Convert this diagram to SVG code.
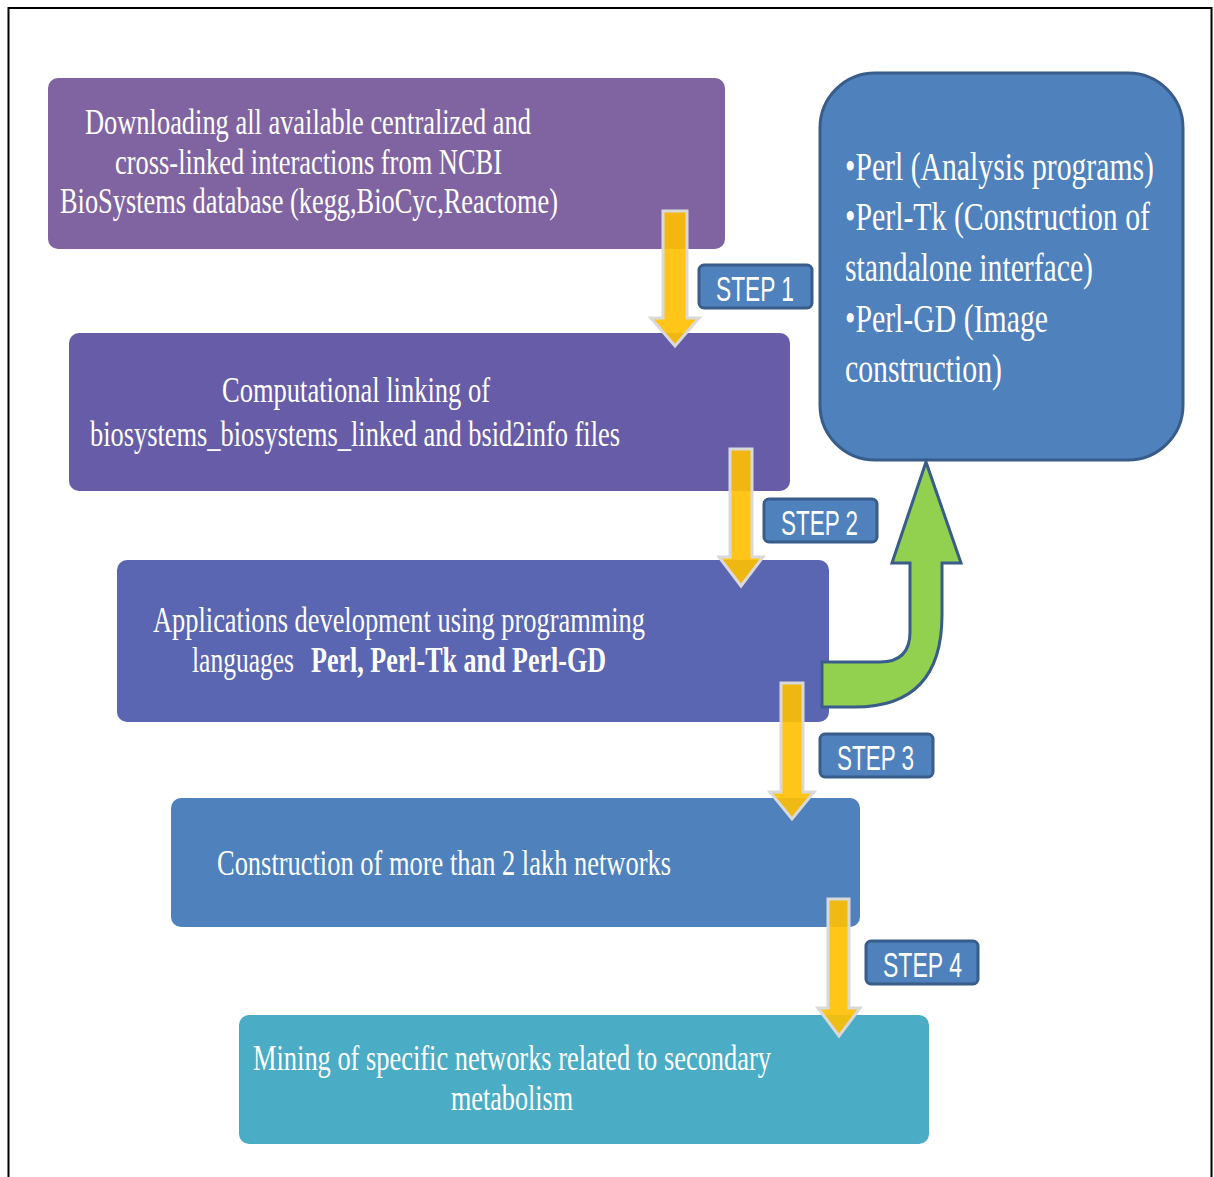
<svg xmlns="http://www.w3.org/2000/svg" width="1214" height="1177" viewBox="0 0 1214 1177">
<style>
.box{stroke:none}
.t{font-family:"Liberation Serif","Times New Roman",serif;font-size:36px;fill:#ffffff}
.tr{font-family:"Liberation Serif","Times New Roman",serif;font-size:40px;fill:#ffffff}
.b{font-weight:bold}
.step rect{fill:#4F81BD;stroke:#385D8A;stroke-width:3}
.step text{font-family:"Liberation Sans",Arial,sans-serif;font-size:35px;fill:#ffffff}
.ya{fill:#FFC000;fill-opacity:0.9;stroke:#D9D9D9;stroke-width:3;stroke-linejoin:miter}
</style>
<rect x="0" y="0" width="1214" height="1177" fill="#ffffff"/>
<rect x="8.5" y="8" width="1203" height="1185" fill="none" stroke="#000000" stroke-width="2"/>

<g id="node1">
<rect class="box" x="48" y="78" width="677" height="171" rx="10" fill="#8064A2"/>
<text class="t" x="85" y="134" textLength="446" lengthAdjust="spacingAndGlyphs">Downloading all available centralized and</text>
<text class="t" x="115" y="174" textLength="387" lengthAdjust="spacingAndGlyphs">cross-linked interactions from NCBI</text>
<text class="t" x="60" y="213" textLength="498" lengthAdjust="spacingAndGlyphs">BioSystems database (kegg,BioCyc,Reactome)</text>
</g>

<g id="node2">
<rect class="box" x="69" y="333" width="721" height="158" rx="10" fill="#675CA8"/>
<text class="t" x="222" y="402" textLength="268" lengthAdjust="spacingAndGlyphs">Computational linking of</text>
<text class="t" x="90" y="446" textLength="530" lengthAdjust="spacingAndGlyphs">biosystems_biosystems_linked and bsid2info files</text>
</g>

<g id="node3">
<rect class="box" x="117" y="560" width="712" height="162" rx="10" fill="#5A66B2"/>
<text class="t" x="153" y="632" textLength="492" lengthAdjust="spacingAndGlyphs">Applications development using programming</text>
<text class="t" y="672"><tspan x="192" textLength="102" lengthAdjust="spacingAndGlyphs">languages</tspan><tspan class="b" x="311" textLength="295" lengthAdjust="spacingAndGlyphs">Perl, Perl-Tk and Perl-GD</tspan></text>
</g>

<g id="node4">
<rect class="box" x="171" y="798" width="689" height="129" rx="10" fill="#4F81BD"/>
<text class="t" x="217" y="875" textLength="454" lengthAdjust="spacingAndGlyphs">Construction of more than 2 lakh networks</text>
</g>

<g id="node5">
<rect class="box" x="239" y="1015" width="690" height="129" rx="10" fill="#4BACC6"/>
<text class="t" x="253" y="1070" textLength="518" lengthAdjust="spacingAndGlyphs">Mining of specific networks related to secondary</text>
<text class="t" x="451" y="1110" textLength="122" lengthAdjust="spacingAndGlyphs">metabolism</text>
</g>

<g id="node6">
<rect x="820" y="73" width="363" height="387" rx="55" fill="#4F81BD" stroke="#385D8A" stroke-width="3"/>
<text class="tr" x="845" y="180" textLength="309" lengthAdjust="spacingAndGlyphs">•Perl (Analysis programs)</text>
<text class="tr" x="845" y="230" textLength="305" lengthAdjust="spacingAndGlyphs">•Perl-Tk (Construction of</text>
<text class="tr" x="845" y="281" textLength="248" lengthAdjust="spacingAndGlyphs">standalone interface)</text>
<text class="tr" x="845" y="332" textLength="203" lengthAdjust="spacingAndGlyphs">•Perl-GD (Image</text>
<text class="tr" x="845" y="382" textLength="157" lengthAdjust="spacingAndGlyphs">construction)</text>
</g>

<g id="connectors">
<path d="M822 662 L880 662 Q910 662 910 632 L910 563 L892 563 L926 462 L961 563 L942 563 L942 615 Q942 707 855 707 L822 707 Z" fill="#92D050" stroke="#385D8A" stroke-width="3" stroke-linejoin="miter"/>
<path class="ya" d="M663 211 L687 211 L687 318 L699 318 L675 346 L651 318 L663 318 Z"/>
<path class="ya" d="M730 449 L752 449 L752 557 L763 557 L741 586 L719 557 L730 557 Z"/>
<path class="ya" d="M781 683 L803 683 L803 792 L814 792 L792 819 L770 792 L781 792 Z"/>
<path class="ya" d="M828 899 L849 899 L849 1008 L860 1008 L839 1036 L818 1008 L828 1008 Z"/>
</g>

<g id="step1" class="step">
<rect x="699" y="265" width="113" height="43" rx="5"/>
<text x="716" y="301" textLength="78" lengthAdjust="spacingAndGlyphs">STEP 1</text>
</g>
<g id="step2" class="step">
<rect x="764" y="499" width="113" height="43" rx="5"/>
<text x="781" y="535" textLength="77" lengthAdjust="spacingAndGlyphs">STEP 2</text>
</g>
<g id="step3" class="step">
<rect x="820" y="734" width="113" height="43" rx="5"/>
<text x="837" y="770" textLength="77" lengthAdjust="spacingAndGlyphs">STEP 3</text>
</g>
<g id="step4" class="step">
<rect x="866" y="941" width="112" height="43" rx="5"/>
<text x="883" y="977" textLength="79" lengthAdjust="spacingAndGlyphs">STEP 4</text>
</g>
</svg>
